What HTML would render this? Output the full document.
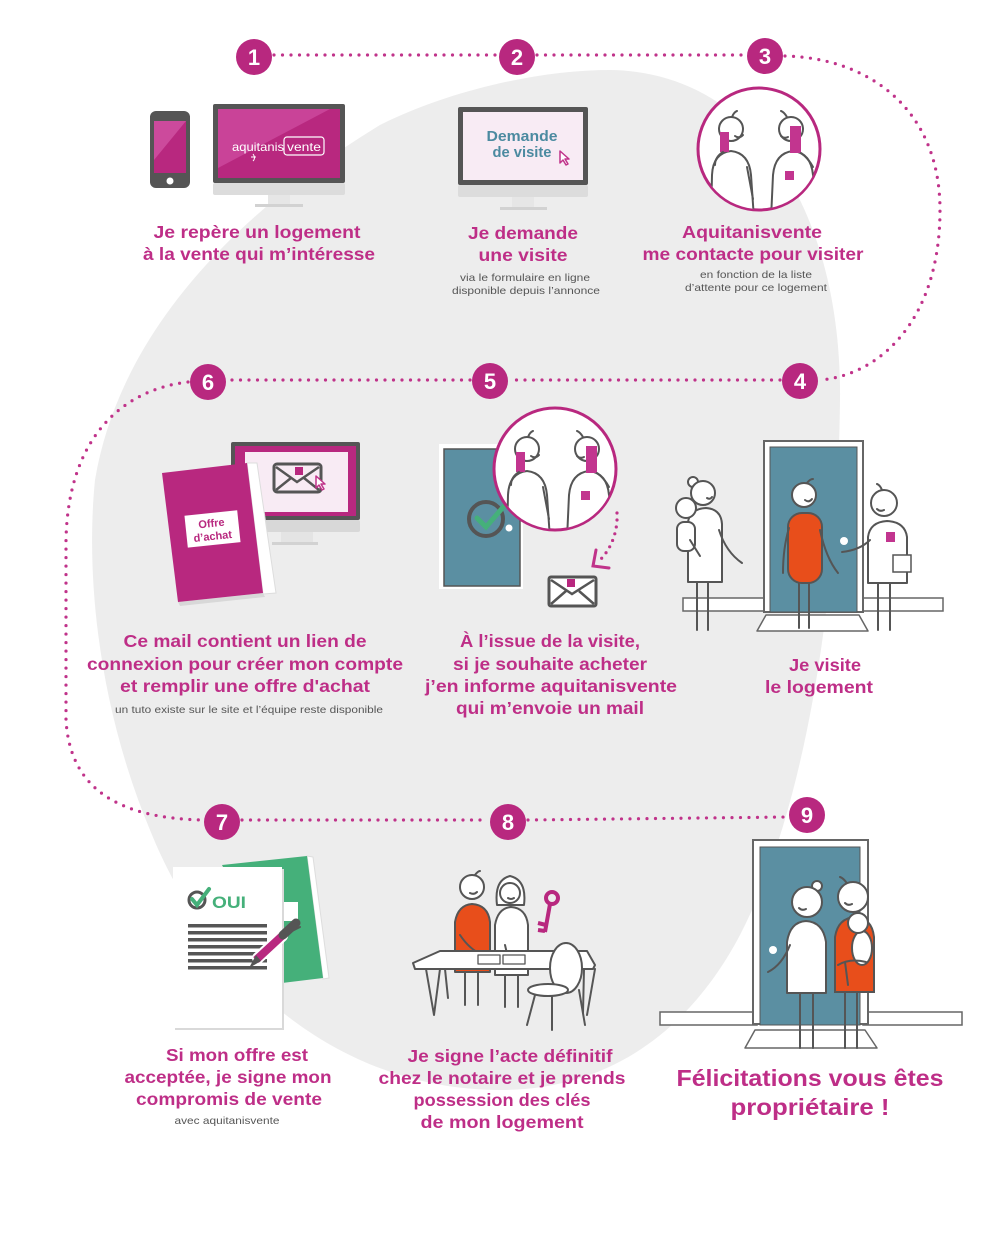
<!DOCTYPE html>
<html><head><meta charset="utf-8">
<style>
html,body{margin:0;padding:0;background:#fff;}
svg{display:block;}
.t{font-family:"Liberation Sans",sans-serif;font-weight:bold;fill:#be2e87;font-size:17.5px;}
.s{font-family:"Liberation Sans",sans-serif;fill:#555;font-size:10.5px;}
.n{font-family:"Liberation Sans",sans-serif;font-weight:bold;fill:#fff;font-size:22px;}
.ln{stroke:#555;stroke-width:2;fill:none;stroke-linecap:round;stroke-linejoin:round}
.fw{fill:#fff;stroke:#555;stroke-width:2;stroke-linejoin:round}
.dot{stroke:#c0338a;stroke-width:3.2;stroke-linecap:round;stroke-dasharray:0 8.5;fill:none}
</style></head><body>
<svg width="1000" height="1243" viewBox="0 0 1000 1243" xmlns="http://www.w3.org/2000/svg">
<defs>
  <clipPath id="cc"><circle cx="0" cy="0" r="60"/></clipPath>
  <g id="talk">
    <circle cx="0" cy="0" r="61" fill="#fff" stroke="#b8287f" stroke-width="3"/>
    <g clip-path="url(#cc)">
      <!-- fig 1 -->
      <path class="fw" d="M -48,70 L -47,26 Q -46,4 -28,2 Q -10,4 -8,26 L -5,70"/>
      <path class="ln" d="M -12,18 L -6,50"/>
      <circle class="fw" cx="-28" cy="-20" r="12"/>
      <path class="ln" d="M -27,-32 q 2,-5 5,-6"/>
      <path class="ln" d="M -24,-13 q 4,3 8,-1"/>
      <rect x="-39" y="-17" width="9" height="20" fill="#c2358f"/>
      <path class="ln" d="M -36,3 Q -44,8 -44,16"/>
      <!-- fig 2 -->
      <path class="fw" d="M 12,70 L 14,26 Q 16,4 34,2 Q 52,4 54,26 L 57,70"/>
      <circle class="fw" cx="32" cy="-20" r="12"/>
      <path class="ln" d="M 28,-32 q -3,-5 -6,-6"/>
      <path class="ln" d="M 22,-13 q 3,3 7,1"/>
      <rect x="31" y="-23" width="11" height="27" fill="#c2358f"/>
      <path class="ln" d="M 42,4 Q 50,10 54,18"/>
      <rect x="26" y="22" width="9" height="9" fill="#c2358f"/>
    </g>
  </g>
  <path id="cur" d="M 0,0 L 0,12 L 3,9 L 6,14 L 8,13 L 5,8 L 9,8 Z" fill="#fff" stroke="#c0338a" stroke-width="1.5" stroke-linejoin="round"/>
</defs>

<!-- background blob -->
<path d="M 610,70 C 760,72 842,220 840,400 C 838,580 810,800 740,935 C 690,1030 610,1090 500,1090 C 340,1090 210,980 150,830 C 100,710 85,580 95,480 C 120,330 240,210 380,125 C 450,90 540,70 610,70 Z" fill="#ededed"/>

<!-- dotted connectors -->
<path class="dot" d="M 274,55 L 497,55"/>
<path class="dot" d="M 537,55 L 745,55"/>
<path class="dot" d="M 785,56 C 870,58 940,110 940,210 C 940,320 880,375 820,380"/>
<path class="dot" d="M 780,380 L 510,380"/>
<path class="dot" d="M 470,380 L 228,380"/>
<path class="dot" d="M 188,382 C 120,390 68,440 66,540 L 66,720 C 70,790 120,818 202,820"/>
<path class="dot" d="M 242,820 L 488,820"/>
<path class="dot" d="M 528,820 L 787,817"/>

<!-- number circles -->
<g fill="#b8287f">
<circle cx="254" cy="57" r="18"/><circle cx="517" cy="57" r="18"/><circle cx="765" cy="56" r="18"/>
<circle cx="800" cy="381" r="18"/><circle cx="490" cy="381" r="18"/><circle cx="208" cy="382" r="18"/>
<circle cx="222" cy="822" r="18"/><circle cx="508" cy="822" r="18"/><circle cx="807" cy="815" r="18"/>
</g>
<g class="n" text-anchor="middle">
<text x="254" y="65">1</text><text x="517" y="65">2</text><text x="765" y="64">3</text>
<text x="800" y="389">4</text><text x="490" y="389">5</text><text x="208" y="390">6</text>
<text x="222" y="830">7</text><text x="508" y="830">8</text><text x="807" y="823">9</text>
</g>

<!-- STEP 1 -->
<rect x="150" y="111" width="40" height="77" rx="6" fill="#555"/>
<rect x="154" y="121" width="32" height="52" fill="#b8287f"/>
<polygon points="154,121 186,121 154,160" fill="#cc4a9c"/>
<circle cx="170" cy="181" r="3.5" fill="#fff"/>
<rect x="213" y="104" width="132" height="79" rx="2" fill="#555"/>
<rect x="218" y="109" width="122" height="69" fill="#b8287f"/>
<polygon points="218,109 330,109 218,168" fill="#c94398"/>
<rect x="213" y="183" width="132" height="12" rx="2" fill="#dcdcdc"/>
<rect x="268" y="195" width="22" height="10" fill="#e6e6e6"/>
<rect x="255" y="204" width="48" height="3" fill="#d2d2d2"/>
<text x="232" y="151" font-family="Liberation Sans, sans-serif" font-size="12" fill="#fff" textLength="52" lengthAdjust="spacingAndGlyphs">aquitanis</text>
<rect x="284" y="137" width="40" height="18" rx="3" fill="none" stroke="#fff" stroke-width="1.2"/>
<text x="287" y="151" font-family="Liberation Sans, sans-serif" font-size="12" fill="#fff" textLength="34" lengthAdjust="spacingAndGlyphs">vente</text>
<path d="M 253,154 q 3,4 0,7 M 251,157 h5" stroke="#fff" stroke-width="1" fill="none"/>
<text class="t" x="257" y="238" text-anchor="middle" textLength="207" lengthAdjust="spacingAndGlyphs">Je repère un logement</text>
<text class="t" x="259" y="260" text-anchor="middle" textLength="232" lengthAdjust="spacingAndGlyphs">à la vente qui m’intéresse</text>

<!-- STEP 2 -->
<rect x="458" y="107" width="130" height="78" rx="2" fill="#555"/>
<rect x="463" y="112" width="120" height="68" fill="#f8ebf4"/>
<rect x="458" y="185" width="130" height="12" rx="2" fill="#dcdcdc"/>
<rect x="512" y="197" width="22" height="10" fill="#e6e6e6"/>
<rect x="500" y="207" width="47" height="3" fill="#d2d2d2"/>
<text x="522" y="141" text-anchor="middle" font-family="Liberation Sans, sans-serif" font-weight="bold" font-size="15" fill="#4b8aa0" textLength="71" lengthAdjust="spacingAndGlyphs">Demande</text>
<text x="522" y="157" text-anchor="middle" font-family="Liberation Sans, sans-serif" font-weight="bold" font-size="15" fill="#4b8aa0" textLength="59" lengthAdjust="spacingAndGlyphs">de visite</text>
<use href="#cur" transform="translate(560,151)"/>
<text class="t" x="523" y="239" text-anchor="middle" textLength="110" lengthAdjust="spacingAndGlyphs">Je demande</text>
<text class="t" x="523" y="261" text-anchor="middle" textLength="89" lengthAdjust="spacingAndGlyphs">une visite</text>
<text class="s" x="525" y="281" text-anchor="middle" textLength="130" lengthAdjust="spacingAndGlyphs">via le formulaire en ligne</text>
<text class="s" x="526" y="294" text-anchor="middle" textLength="148" lengthAdjust="spacingAndGlyphs">disponible depuis l’annonce</text>

<!-- STEP 3 -->
<use href="#talk" transform="translate(759,149)"/>
<text class="t" x="752" y="238" text-anchor="middle" textLength="140" lengthAdjust="spacingAndGlyphs">Aquitanisvente</text>
<text class="t" x="753" y="260" text-anchor="middle" textLength="221" lengthAdjust="spacingAndGlyphs">me contacte pour visiter</text>
<text class="s" x="756" y="278" text-anchor="middle" textLength="112" lengthAdjust="spacingAndGlyphs">en fonction de la liste</text>
<text class="s" x="756" y="291" text-anchor="middle" textLength="142" lengthAdjust="spacingAndGlyphs">d’attente pour ce logement</text>

<!-- STEP 6 -->
<rect x="231" y="442" width="129" height="78" rx="2" fill="#555"/>
<rect x="235" y="446" width="121" height="70" fill="#b8287f"/>
<rect x="245" y="452" width="103" height="60" fill="#f8ebf4"/>
<rect x="231" y="520" width="129" height="12" rx="2" fill="#d8d8d8"/>
<rect x="281" y="532" width="32" height="10" fill="#e4e4e4"/>
<rect x="272" y="542" width="46" height="3" fill="#d2d2d2"/>
<rect x="274" y="464" width="47" height="28" rx="3" fill="#f8ebf4" stroke="#555" stroke-width="3"/>
<path d="M 276,467 L 297,482 L 319,467 M 276,490 L 291,478 M 319,490 L 304,478" stroke="#555" stroke-width="2.5" fill="none"/>
<rect x="295" y="467" width="8" height="8" fill="#b8287f"/>
<use href="#cur" transform="translate(316,476)"/>
<polygon points="247,463 257,463 276,593 263,594" fill="#fff" stroke="#ddd" stroke-width="1"/>
<polygon points="178,602 263,593 265,597 180,606" fill="#d8d8d8"/>
<polygon points="162,473 247,463 263,593 178,602" fill="#b8287f"/>
<g transform="rotate(-6 212 529)">
<rect x="186" y="513" width="53" height="32" fill="#fff"/>
<text x="212" y="527" text-anchor="middle" font-family="Liberation Sans, sans-serif" font-weight="bold" font-size="11" fill="#b8287f">Offre</text>
<text x="212" y="540" text-anchor="middle" font-family="Liberation Sans, sans-serif" font-weight="bold" font-size="11" fill="#b8287f">d’achat</text>
</g>
<text class="t" x="245" y="647" text-anchor="middle" textLength="243" lengthAdjust="spacingAndGlyphs">Ce mail contient un lien de</text>
<text class="t" x="245" y="670" text-anchor="middle" textLength="316" lengthAdjust="spacingAndGlyphs">connexion pour créer mon compte</text>
<text class="t" x="245" y="692" text-anchor="middle" textLength="250" lengthAdjust="spacingAndGlyphs">et remplir une offre d'achat</text>
<text class="s" x="249" y="713" text-anchor="middle" textLength="268" lengthAdjust="spacingAndGlyphs">un tuto existe sur le site et l’équipe reste disponible</text>

<!-- STEP 5 -->
<rect x="439" y="444" width="84" height="145" fill="#fff"/>
<rect x="444" y="449" width="76" height="137" fill="#5b8fa2" stroke="#555" stroke-width="1.5"/>
<circle cx="486" cy="519" r="17" fill="none" stroke="#555" stroke-width="4"/>
<path d="M 477,518 L 486,527 L 505,505" stroke="#45b07a" stroke-width="5" fill="none" stroke-linecap="round"/>
<circle cx="509" cy="528" r="3.5" fill="#fff"/>
<use href="#talk" transform="translate(555,469)"/>
<path d="M 617,513 C 618,530 612,548 600,560" class="dot" style="stroke-dasharray:0 7"/>
<path d="M 596,550 L 593,566 L 609,568" stroke="#c0338a" stroke-width="3" fill="none" stroke-linecap="round"/>
<rect x="549" y="577" width="47" height="29" rx="2" fill="#fff" stroke="#555" stroke-width="3"/>
<path d="M 551,580 L 572,594 L 594,580 M 551,604 L 566,591 M 594,604 L 579,591" stroke="#555" stroke-width="2.5" fill="none"/>
<rect x="567" y="579" width="8" height="8" fill="#b8287f"/>
<text class="t" x="550" y="647" text-anchor="middle" textLength="180" lengthAdjust="spacingAndGlyphs">À l’issue de la visite,</text>
<text class="t" x="550" y="670" text-anchor="middle" textLength="194" lengthAdjust="spacingAndGlyphs">si je souhaite acheter</text>
<text class="t" x="551" y="692" text-anchor="middle" textLength="252" lengthAdjust="spacingAndGlyphs">j’en informe aquitanisvente</text>
<text class="t" x="550" y="714" text-anchor="middle" textLength="188" lengthAdjust="spacingAndGlyphs">qui m’envoie un mail</text>

<!-- STEP 4 -->
<rect x="683" y="598" width="84" height="13" fill="#fff" stroke="#666" stroke-width="1.5"/>
<rect x="859" y="598" width="84" height="13" fill="#fff" stroke="#666" stroke-width="1.5"/>
<rect x="764" y="441" width="99" height="171" fill="#fff" stroke="#666" stroke-width="2"/>
<rect x="770" y="447" width="87" height="165" fill="#5b8fa2" stroke="#555" stroke-width="1"/>
<polygon points="766,615 859,615 868,631 757,631" fill="#fff" stroke="#666" stroke-width="1.5" stroke-linejoin="round"/>
<circle cx="844" cy="541" r="4" fill="#fff"/>
<!-- middle figure -->
<path class="ln" d="M 799,582 L 799,628 M 809,582 L 809,628"/>
<rect x="788" y="513" width="34" height="70" rx="14" fill="#e84e1b" stroke="#555" stroke-width="2"/>
<path class="ln" d="M 789,528 Q 783,548 783,573 M 820,530 Q 826,558 838,573"/>
<circle class="fw" cx="804" cy="495" r="12"/>
<path class="ln" d="M 807,483 q 3,-4 6,-4 M 805,500 q 4,3 7,-1"/>
<!-- right figure -->
<path class="ln" d="M 878,582 L 878,630 M 890,582 L 890,630"/>
<path class="fw" d="M 868,583 L 868,537 Q 870,522 887,521 Q 905,522 907,537 L 907,583 Z"/>
<path class="ln" d="M 870,540 Q 860,550 842,552"/>
<rect x="886" y="532" width="9" height="10" fill="#c2358f"/>
<rect x="893" y="555" width="18" height="17" fill="#fff" stroke="#555" stroke-width="1.5"/>
<circle class="fw" cx="884" cy="503" r="13"/>
<path class="ln" d="M 882,490 q -2,-5 -5,-6 M 877,509 q 3,3 7,1"/>
<!-- left figure -->
<path class="ln" d="M 697,582 L 697,630 M 708,582 L 708,630"/>
<path class="fw" d="M 688,582 L 688,522 Q 690,509 706,508 Q 721,509 722,524 L 722,582 Z"/>
<path class="ln" d="M 719,530 Q 726,552 742,563"/>
<circle class="fw" cx="693" cy="482" r="5"/>
<circle class="fw" cx="703" cy="493" r="12"/>
<path class="ln" d="M 707,498 q 3,2 5,-1"/>
<rect x="677" y="522" width="18" height="29" rx="7" class="fw"/>
<path class="ln" d="M 690,540 L 700,556"/>
<circle class="fw" cx="686" cy="508" r="10"/>
<text class="t" x="825" y="671" text-anchor="middle" textLength="72" lengthAdjust="spacingAndGlyphs">Je visite</text>
<text class="t" x="819" y="693" text-anchor="middle" textLength="108" lengthAdjust="spacingAndGlyphs">le logement</text>

<!-- STEP 7 -->
<polygon points="307,856 313,857 329,978 323,979" fill="#fff" stroke="#ddd" stroke-width="1"/>
<polygon points="222,865 307,856 323,978 282,983" fill="#45b07a"/>
<rect x="282" y="902" width="16" height="19" fill="#fff"/>
<rect x="175" y="869" width="109" height="161" fill="#d9d9d9"/>
<rect x="173" y="867" width="109" height="161" fill="#fff"/>
<circle cx="197" cy="900" r="8" fill="none" stroke="#555" stroke-width="3"/>
<path d="M 192,899 L 197,905 L 209,889" stroke="#45b07a" stroke-width="4" fill="none" stroke-linecap="round"/>
<text x="212" y="908" font-family="Liberation Sans, sans-serif" font-weight="bold" font-size="17" fill="#45b07a" textLength="34" lengthAdjust="spacingAndGlyphs">OUI</text>
<g fill="#555">
<rect x="188" y="924" width="79" height="3.5"/><rect x="188" y="931" width="79" height="3.5"/>
<rect x="188" y="938" width="79" height="3.5"/><rect x="188" y="945" width="79" height="3.5"/>
<rect x="188" y="952" width="79" height="3.5"/><rect x="188" y="959" width="79" height="3.5"/>
<rect x="188" y="966" width="79" height="3.5"/>
</g>
<path d="M 258,958 L 282,936" stroke="#fff" stroke-width="12" stroke-linecap="round"/>
<path d="M 256,960 L 283,935" stroke="#b8287f" stroke-width="8"/>
<path d="M 283,935 L 296,923" stroke="#555" stroke-width="9" stroke-linecap="round"/>
<polygon points="256,955 261,961 249,968" fill="#555"/>
<path class="ln" d="M 290,932 L 300,927"/>
<text class="t" x="237" y="1061" text-anchor="middle" textLength="142" lengthAdjust="spacingAndGlyphs">Si mon offre est</text>
<text class="t" x="228" y="1083" text-anchor="middle" textLength="207" lengthAdjust="spacingAndGlyphs">acceptée, je signe mon</text>
<text class="t" x="229" y="1105" text-anchor="middle" textLength="186" lengthAdjust="spacingAndGlyphs">compromis de vente</text>
<text class="s" x="227" y="1124" text-anchor="middle" textLength="105" lengthAdjust="spacingAndGlyphs">avec aquitanisvente</text>

<!-- STEP 8 -->
<path class="ln" d="M 465,968 L 465,1005 M 478,968 L 478,1005 M 505,968 L 505,1007 M 518,968 L 518,1007"/>
<path class="fw" d="M 455,972 L 455,922 Q 458,905 472,904 Q 488,905 490,922 L 490,972 Z" fill="#e84e1b" style="fill:#e84e1b"/>
<path class="fw" d="M 495,975 L 495,925 Q 498,908 511,907 Q 526,908 528,925 L 528,975 Z"/>
<path class="ln" d="M 460,935 Q 470,950 483,955 M 505,945 L 508,958"/>
<circle class="fw" cx="472" cy="887" r="12"/>
<path class="ln" d="M 475,875 q 3,-4 5,-4 M 470,893 q 4,2 7,-1"/>
<path class="fw" d="M 497,905 Q 494,880 510,876 Q 527,880 524,905 Z"/>
<circle class="fw" cx="510" cy="893" r="10"/>
<path class="ln" d="M 508,898 q 3,2 6,0"/>
<circle cx="552" cy="898" r="6" fill="none" stroke="#b8287f" stroke-width="4"/>
<path d="M 550,904 L 545,932 M 546,925 L 538,923 M 545,931 L 538,930" stroke="#b8287f" stroke-width="4" fill="none"/>
<polygon points="413,963 440,951 587,951 595,965 593,969 415,969" class="fw"/>
<rect x="478" y="955" width="22" height="9" class="fw" style="stroke-width:1.3"/>
<rect x="503" y="955" width="22" height="9" class="fw" style="stroke-width:1.3"/>
<path class="ln" d="M 426,969 L 434,1015 L 440,969 M 445,969 L 448,998 M 584,969 L 583,1013 M 595,969 L 587,1015"/>
<ellipse cx="566" cy="968" rx="16" ry="25" class="fw"/>
<ellipse cx="548" cy="990" rx="20" ry="6" class="fw"/>
<path class="ln" d="M 535,995 L 527,1025 M 552,996 L 552,1030 M 579,990 L 585,1025"/>
<text class="t" x="510" y="1062" text-anchor="middle" textLength="205" lengthAdjust="spacingAndGlyphs">Je signe l’acte définitif</text>
<text class="t" x="502" y="1084" text-anchor="middle" textLength="247" lengthAdjust="spacingAndGlyphs">chez le notaire et je prends</text>
<text class="t" x="502" y="1106" text-anchor="middle" textLength="177" lengthAdjust="spacingAndGlyphs">possession des clés</text>
<text class="t" x="502" y="1128" text-anchor="middle" textLength="163" lengthAdjust="spacingAndGlyphs">de mon logement</text>

<!-- STEP 9 -->
<rect x="660" y="1012" width="97" height="13" fill="#fff" stroke="#666" stroke-width="1.5"/>
<rect x="863" y="1012" width="99" height="13" fill="#fff" stroke="#666" stroke-width="1.5"/>
<rect x="753" y="840" width="115" height="184" fill="#fff" stroke="#666" stroke-width="2"/>
<rect x="760" y="847" width="100" height="178" fill="#5b8fa2" stroke="#555" stroke-width="1"/>
<polygon points="755,1030 865,1030 877,1048 745,1048" fill="#fff" stroke="#666" stroke-width="1.5" stroke-linejoin="round"/>
<circle cx="773" cy="950" r="4" fill="#fff"/>
<path class="ln" d="M 800,993 L 800,1048 M 813,993 L 813,1048 M 845,992 L 845,1048 M 857,992 L 857,1048"/>
<path class="fw" d="M 787,993 L 787,942 Q 790,922 806,921 Q 823,922 826,942 L 826,993 Z"/>
<path class="ln" d="M 790,945 Q 782,965 768,972"/>
<circle class="fw" cx="817" cy="886" r="5"/>
<circle class="fw" cx="807" cy="902" r="15"/>
<path class="ln" d="M 799,908 q 3,3 7,1"/>
<path d="M 835,992 L 835,937 Q 838,918 855,917 Q 872,918 874,937 L 874,992 Z" fill="#e84e1b" stroke="#555" stroke-width="2"/>
<ellipse cx="862" cy="948" rx="10" ry="17" class="fw"/>
<path class="ln" d="M 838,965 Q 850,958 866,962 M 845,962 L 848,985"/>
<circle class="fw" cx="853" cy="897" r="15"/>
<path class="ln" d="M 846,882 q -3,-4 -6,-5 M 845,903 q 3,3 7,1"/>
<circle class="fw" cx="858" cy="923" r="10"/>
<text class="t" x="810" y="1086" text-anchor="middle" style="font-size:23px" textLength="267" lengthAdjust="spacingAndGlyphs">Félicitations vous êtes</text>
<text class="t" x="810" y="1115" text-anchor="middle" style="font-size:23px" textLength="159" lengthAdjust="spacingAndGlyphs">propriétaire !</text>
</svg>
</body></html>
